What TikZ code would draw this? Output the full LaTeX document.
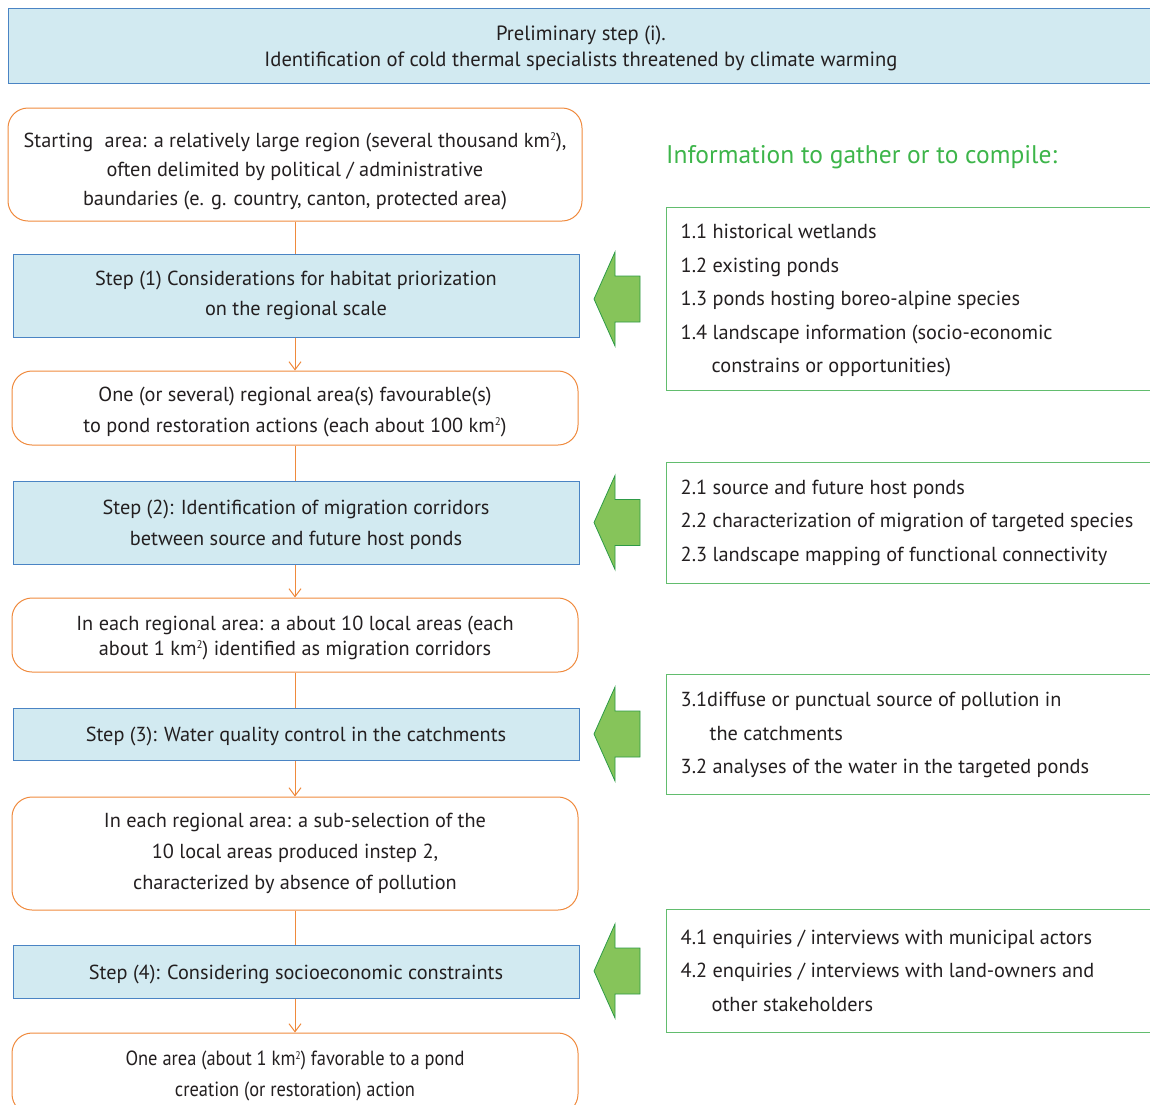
\documentclass[tikz,border=0pt]{standalone}
\usepackage{fontspec}
\setmainfont{PT Sans}
\newfontfamily\condfont[FakeStretch=0.9]{PT Sans}
\usetikzlibrary{arrows.meta}
\newcommand\sqkm{km\raisebox{0.62ex}{\fontsize{11}{11}\selectfont 2}}
\newcommand\upstrut[1]{\rule{0pt}{#1pt}}
\definecolor{txt}{HTML}{231F20}
\definecolor{stepfill}{HTML}{D2EAF1}
\definecolor{stepline}{HTML}{4A84C4}
\definecolor{orng}{HTML}{EF8A3D}
\definecolor{infoline}{HTML}{62BD6E}
\definecolor{titlegreen}{HTML}{3DB54A}
\definecolor{arrfill}{HTML}{86C45A}
\definecolor{arrline}{HTML}{2E9A46}
\begin{document}
\begin{tikzpicture}[x=1pt,y=-1pt,
  every node/.style={text=txt},
  stepbox/.style={draw=stepline, fill=stepfill, line width=1pt, minimum width=566pt, align=center, inner sep=0pt},
  resbox/.style={draw=orng, rounded corners=20pt, line width=1pt, minimum width=566pt, align=center, inner sep=0pt},
  infobox/.style={draw=infoline, line width=1pt, minimum width=490pt, inner sep=0pt},
  infotext/.style={align=left, inner sep=0pt, font=\fontsize{20.3}{33.5}\selectfont},
  conn/.style={draw=orng, line width=1pt},
  connarrow/.style={conn, -{Straight Barb[width=12pt,length=8pt,line width=1pt]}},
  garrow/.style={draw=arrline, fill=arrfill, line width=0.8pt, line join=miter}
]
\useasboundingbox (0,0) rectangle (1150,1104);

% top box
\node[draw=stepline, fill=stepfill, line width=1pt, minimum width=1146pt, minimum height=75pt, align=center, inner sep=0pt,
      font=\fontsize{20.6}{26}\selectfont] (top) at (581,45.5)
  {\upstrut{20}Preliminary step (i).\\Identification of cold thermal specialists threatened by climate warming};

% main flow
\node[resbox, minimum width=574pt, minimum height=113pt, font=\fontsize{20.3}{29}\selectfont] (start) at (295,164.5)
  {\upstrut{28}Starting\hspace{0.3em} area: a relatively large region (several thousand \sqkm),\\often delimited by political / administrative\\baundaries (e. g. country, canton, protected area)};
\node[stepbox, minimum height=83pt, font=\fontsize{20.3}{30}\selectfont] (s1) at (296,295.5)
  {Step (1) Considerations for habitat priorization\\on the regional scale};
\node[resbox, minimum height=74pt, font=\fontsize{20.3}{31}\selectfont] (r1) at (295,408)
  {\upstrut{22}One (or several) regional area(s) favourable(s)\\to pond restoration actions (each about 100 \sqkm)};
\node[stepbox, minimum height=83pt, font=\fontsize{20.3}{31}\selectfont] (s2) at (296,522.5)
  {\upstrut{20}Step (2): Identification of migration corridors\\between source and future host ponds};
\node[resbox, minimum height=74pt, font=\fontsize{20.3}{25}\selectfont] (r2) at (295,635)
  {\upstrut{20}In each regional area: a about 10 local areas (each\\about 1 \sqkm) identified as migration corridors};
\node[stepbox, minimum height=52pt, font=\fontsize{20.3}{25}\selectfont] (s3) at (296,734)
  {\upstrut{20}Step (3): Water quality control in the catchments};
\node[resbox, minimum height=113pt, font=\fontsize{20.3}{31}\selectfont] (r3) at (295,853.5)
  {In each regional area: a sub-selection of the\\10 local areas produced instep 2,\\characterized by absence of pollution};
\node[stepbox, minimum height=53pt, font=\fontsize{20.3}{25}\selectfont] (s4) at (296,971.5)
  {\upstrut{20}Step (4): Considering socioeconomic constraints};
\node[resbox, minimum height=81pt, font=\condfont\fontsize{20.5}{31}\selectfont] (r4) at (295,1073.5)
  {\upstrut{20}One area (about 1 \sqkm) favorable to a pond\\creation (or restoration) action};

\draw[conn] (start.south) -- (start.south |- s1.north);
\draw[connarrow] (start.south |- s1.south) -- (start.south |- r1.north);
\draw[conn] (start.south |- r1.south) -- (start.south |- s2.north);
\draw[connarrow] (start.south |- s2.south) -- (start.south |- r2.north);
\draw[conn] (start.south |- r2.south) -- (start.south |- s3.north);
\draw[connarrow] (start.south |- s3.south) -- (start.south |- r3.north);
\draw[conn] (start.south |- r3.south) -- (start.south |- s4.north);
\draw[connarrow] (start.south |- s4.south) -- (start.south |- r4.north);

% info title
\node[anchor=west, inner sep=0pt, text=titlegreen, font=\fontsize{25.5}{28}\selectfont] (title) at (666,157)
  {Information to gather or to compile:};

% info boxes
\node[infobox, minimum height=183pt] (i1) at (911,298.5) {};
\node[infotext, anchor=west] (t1) at ([xshift=15pt,yshift=-2pt]i1.west)
  {1.1 historical wetlands\\1.2 existing ponds\\1.3 ponds hosting boreo-alpine species\\1.4 landscape information (socio-economic\\\hspace*{31pt}constrains or opportunities)};
\node[infobox, minimum height=121pt] (i2) at (911,522.5) {};
\node[infotext, anchor=west] (t2) at ([xshift=15pt]i2.west)
  {2.1 source and future host ponds\\2.2 characterization of migration of targeted species\\2.3 landscape mapping of functional connectivity};
\node[infobox, minimum height=120pt] (i3) at (911,734) {};
\node[infotext, anchor=west] (t3) at ([xshift=15pt,yshift=-1pt]i3.west)
  {3.1diffuse or punctual source of pollution in\\\hspace*{29pt}the catchments\\3.2 analyses of the water in the targeted ponds};
\node[infobox, minimum height=123pt] (i4) at (911,970.5) {};
\node[infotext, anchor=west] (t4) at ([xshift=15pt]i4.west)
  {4.1 enquiries / interviews with municipal actors\\4.2 enquiries / interviews with land-owners and\\\hspace*{31pt}other stakeholders};

% green block arrows
\foreach \y in {299,522.5,734,971}{
  \draw[garrow] (594,\y) -- (615,{\y-47}) -- (615,{\y-23}) -- (640,{\y-23}) -- (640,{\y+23}) -- (615,{\y+23}) -- (615,{\y+47}) -- cycle;
}
\end{tikzpicture}
\end{document}
